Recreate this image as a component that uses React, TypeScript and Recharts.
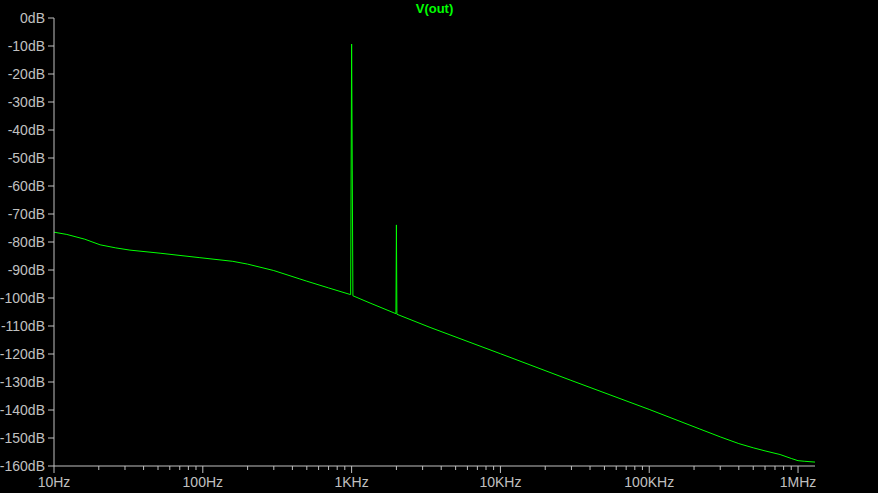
import React from "react";
import { Line, LineChart, XAxis, YAxis } from "recharts";

// FFT of V(out) (Hz / dB)
const FREQ_HZ = [
  10, 12.2, 16.1, 20.4, 26, 32.4, 51.6, 95.6, 159, 200, 300, 449, 500, 700, 985,
  1000, 1010, 1020, 1330, 1985, 2000, 2015, 3365, 10000, 29400, 100000, 219000,
  300000, 400000, 500000, 600000, 757000, 900000, 1000000, 1100000, 1300000,
];
const VOUT_DB = [
  -76.5, -77.3, -79.0, -81.0, -82.1, -82.9, -84.0, -85.6, -86.9, -87.9, -90.2,
  -93.2, -94.0, -96.4, -98.8, -9.3, -54.3, -99.2, -101.8, -105.6, -73.9,
  -105.8, -110.5, -119.9, -129.3, -139.8, -146.8, -149.6, -152.0, -153.5,
  -154.6, -155.9, -157.3, -158.1, -158.3, -158.6,
];

const DECADES = [10, 100, 1000, 10000, 100000, 1000000];
const DECADE_LABELS = ["10Hz", "100Hz", "1KHz", "10KHz", "100KHz", "1MHz"];
const MULTIPLES = [1, 2, 3, 4, 5, 6, 7, 8, 9];
const X_MAX = 1300000;
const Y_TICKS = [0, -10, -20, -30, -40, -50, -60, -70, -80, -90, -100, -110, -120, -130, -140, -150, -160];

const X_TICKS = DECADES.flatMap((d) => MULTIPLES.map((m) => d * m)).filter((f) => f <= X_MAX);
const data = FREQ_HZ.map((f, i) => ({ f, db: VOUT_DB[i] }));

const AXIS = "#c0c0c0";
const TRACE = "#00ff00";
const FONT = "'Liberation Sans', Arial, sans-serif";

const X_TICK_SIZE = 4;
const X_TICK_MARGIN = 7;

// log axis tick: short line for 2..9, longer line + label at each decade
function FreqTick(props: any) {
  const { x, y, payload } = props;
  const axisY = y - X_TICK_SIZE - X_TICK_MARGIN;
  const idx = DECADES.indexOf(payload.value);
  const major = idx >= 0;
  return (
    <g>
      <line x1={x} x2={x} y1={axisY} y2={axisY + (major ? 7 : 4)} stroke={AXIS} />
      {major ? (
        <text x={x} y={y + 10} textAnchor="middle" fill={AXIS} fontSize={14} fontFamily={FONT}>
          {DECADE_LABELS[idx]}
        </text>
      ) : null}
    </g>
  );
}

export default function App() {
  return (
    <div
      style={{ position: "fixed", left: 0, top: 0, width: 878, height: 493, background: "#000" }}
    >
      <div
        style={{
          position: "absolute",
          left: 0,
          width: 869,
          top: 0,
          textAlign: "center",
          color: TRACE,
          fontFamily: FONT,
          fontWeight: "bold",
          fontSize: 13,
          lineHeight: "17px",
        }}
      >
        V(out)
      </div>
      <LineChart width={878} height={493} data={data} margin={{ top: 18, right: 63, left: 0, bottom: 0 }}>
        <XAxis
          dataKey="f"
          type="number"
          scale="log"
          domain={[10, X_MAX]}
          allowDataOverflow
          ticks={X_TICKS}
          interval={0}
          height={27}
          tickLine={false}
          tickSize={X_TICK_SIZE}
          tickMargin={X_TICK_MARGIN}
          axisLine={{ stroke: AXIS }}
          tick={<FreqTick />}
        />
        <XAxis
          xAxisId="top"
          dataKey="f"
          type="number"
          scale="log"
          domain={[10, X_MAX]}
          orientation="top"
          height={0}
          tick={false}
          tickLine={false}
          axisLine={{ stroke: AXIS }}
        />
        <YAxis
          type="number"
          domain={[-160, 0]}
          ticks={Y_TICKS}
          interval={0}
          width={54}
          tickSize={6}
          tickMargin={3}
          tickLine={{ stroke: AXIS }}
          axisLine={{ stroke: AXIS }}
          tick={{ fill: AXIS, fontSize: 14, fontFamily: FONT }}
          tickFormatter={(v: number) => `${v}dB`}
        />
        <YAxis
          yAxisId="right"
          type="number"
          domain={[-160, 0]}
          orientation="right"
          width={0}
          tick={false}
          tickLine={false}
          axisLine={{ stroke: AXIS }}
        />
        <Line
          type="linear"
          dataKey="db"
          stroke={TRACE}
          strokeWidth={1}
          dot={false}
          isAnimationActive={false}
        />
      </LineChart>
    </div>
  );
}
